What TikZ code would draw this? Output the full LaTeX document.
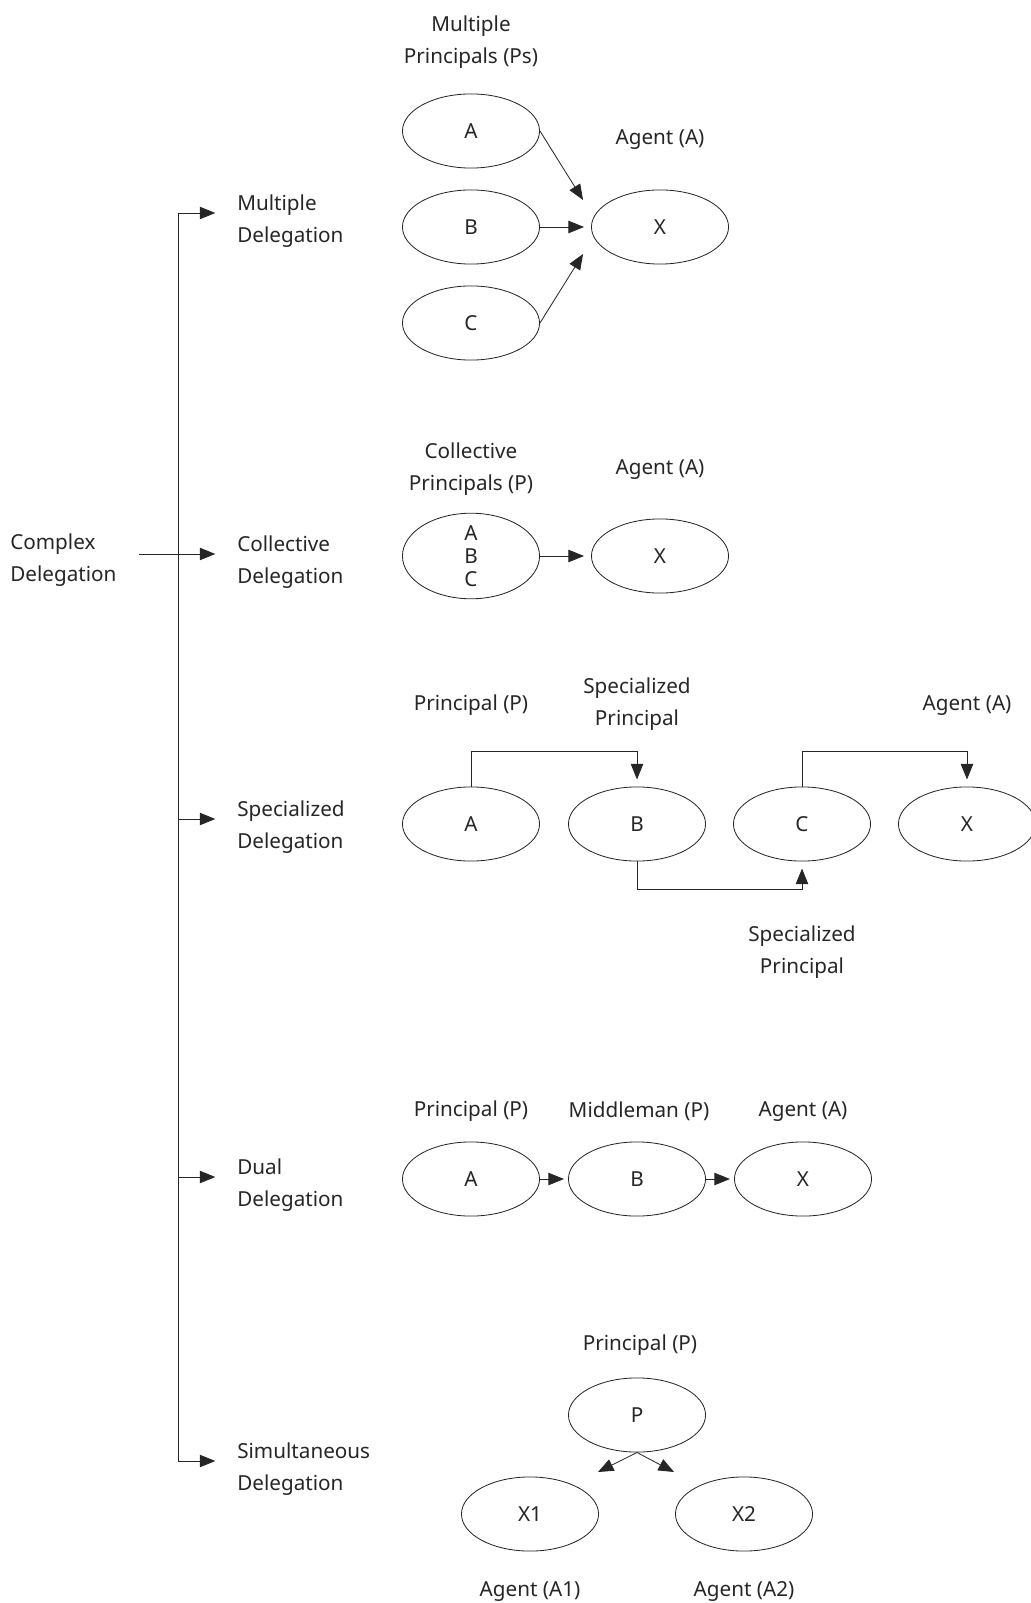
\documentclass[tikz,border=0pt]{standalone}
\usepackage{fontspec}
\setmainfont{Noto Sans}
\usetikzlibrary{arrows.meta,shapes.geometric,calc}
\tikzset{
    deleg node/.style={
        draw=black!85,
        ellipse,
        thin,
        minimum width=2.33cm,
        minimum height=1.26cm,
        inner sep=0pt,
        align=center,
        text=black!85,
        font=\fontsize{10pt}{11pt}\selectfont
    },
    deleg text/.style={font=\fontsize{10pt}{15.4pt}\selectfont, text=black!85, align=center, yshift=-0.07cm},
    deleg branch/.style={deleg text, align=left, anchor=west},
    deleg line/.style={thin, draw=black!85},
    deleg arrow/.style={-{Triangle[length=7.5pt,width=6pt]}, thin, draw=black!85, shorten >=0.12cm}
}

\begin{document}
\begin{tikzpicture}[x=0.017cm, y=-0.017cm]
\useasboundingbox (0,0) rectangle (1030,1603);

% Tree of delegation types
\node[deleg branch] (root) at (3,556) {Complex\\Delegation};
\coordinate (tMul) at (178,213);
\coordinate (tCol) at (178,554);
\coordinate (tSpe) at (178,819);
\coordinate (tDua) at (178,1177);
\coordinate (tSim) at (178,1461);
\node[deleg branch] (bMul) at (230,217) {Multiple\\Delegation};
\node[deleg branch] (bCol) at (230,558) {Collective\\Delegation};
\node[deleg branch] (bSpe) at (230,823) {Specialized\\Delegation};
\node[deleg branch] (bDua) at (230,1181) {Dual\\Delegation};
\node[deleg branch] (bSim) at (230,1465) {Simultaneous\\Delegation};
\draw[deleg line] (tMul) -- (tSim);
\draw[deleg line] ($(root.east |- tCol)+(15,0)$) -- (tCol);
\draw[deleg arrow, shorten >=0.25cm] (tMul) -- (tMul -| bMul.west);
\draw[deleg arrow, shorten >=0.25cm] (tCol) -- (tCol -| bCol.west);
\draw[deleg arrow, shorten >=0.25cm] (tSpe) -- (tSpe -| bSpe.west);
\draw[deleg arrow, shorten >=0.25cm] (tDua) -- (tDua -| bDua.west);
\draw[deleg arrow, shorten >=0.25cm] (tSim) -- (tSim -| bSim.west);

% Multiple delegation
\node[deleg text] (mPs) at (471,38) {Multiple\\Principals (Ps)};
\node[deleg text] (mAg) at (660,135) {Agent (A)};
\node[deleg node] (mA) at (471,131) {A};
\node[deleg node] (mB) at (471,227) {B};
\node[deleg node] (mC) at (471,323) {C};
\node[deleg node] (mX) at (660,227) {X};
\draw[deleg arrow, shorten >=0pt] (mA.east) -- ($(mX.west)+(-8,-27)$);
\draw[deleg arrow] (mB) -- (mX);
\draw[deleg arrow, shorten >=0pt] (mC.east) -- ($(mX.west)+(-8,27)$);

% Collective delegation
\node[deleg text] (cPs) at (471,465) {Collective\\Principals (P)};
\node[deleg text] (cAg) at (660,465) {Agent (A)};
\node[deleg node] (cP) at (471,556) {A\\B\\C};
\node[deleg node] (cX) at (660,556) {X};
\draw[deleg arrow] (cP) -- (cX);

% Specialized delegation
\node[deleg text] (sPl) at (471,701) {Principal (P)};
\node[deleg text] (sSp1) at (637,700) {Specialized\\Principal};
\node[deleg text] (sAg) at (967,701) {Agent (A)};
\node[deleg text] (sSp2) at (802,948) {Specialized\\Principal};
\node[deleg node] (sA) at (471,824) {A};
\node[deleg node] (sB) at (637,824) {B};
\node[deleg node] (sC) at (802,824) {C};
\node[deleg node] (sX) at (967,824) {X};
\draw[deleg arrow] (sA.north) -- ++(0,-35) -| (sB.north);
\draw[deleg arrow] (sB.south) -- ++(0,28) -| (sC.south);
\draw[deleg arrow] (sC.north) -- ++(0,-35) -| (sX.north);

% Dual delegation
\node[deleg text] (dPl) at (471,1107) {Principal (P)};
\node[deleg text] (dMid) at (639,1107) {Middleman (P)};
\node[deleg text] (dAg) at (803,1107) {Agent (A)};
\node[deleg node] (dA) at (471,1179) {A};
\node[deleg node] (dB) at (637,1179) {B};
\node[deleg node] (dX) at (803,1179) {X};
\draw[deleg arrow, shorten >=0.07cm] (dA) -- (dB);
\draw[deleg arrow, shorten >=0.07cm] (dB) -- (dX);

% Simultaneous delegation
\node[deleg text] (uPl) at (640,1341) {Principal (P)};
\node[deleg node] (uP) at (637,1415) {P};
\node[deleg node] (uX1) at (530,1514) {X1};
\node[deleg node] (uX2) at (744,1514) {X2};
\node[deleg text] (uAg1) at (530,1587) {Agent (A1)};
\node[deleg text] (uAg2) at (744,1587) {Agent (A2)};
\draw[deleg arrow, shorten >=0pt] (uP.south) -- ($(uX1)+(68,-42)$);
\draw[deleg arrow, shorten >=0pt] (uP.south) -- ($(uX2)+(-70,-42)$);
\end{tikzpicture}
\end{document}
